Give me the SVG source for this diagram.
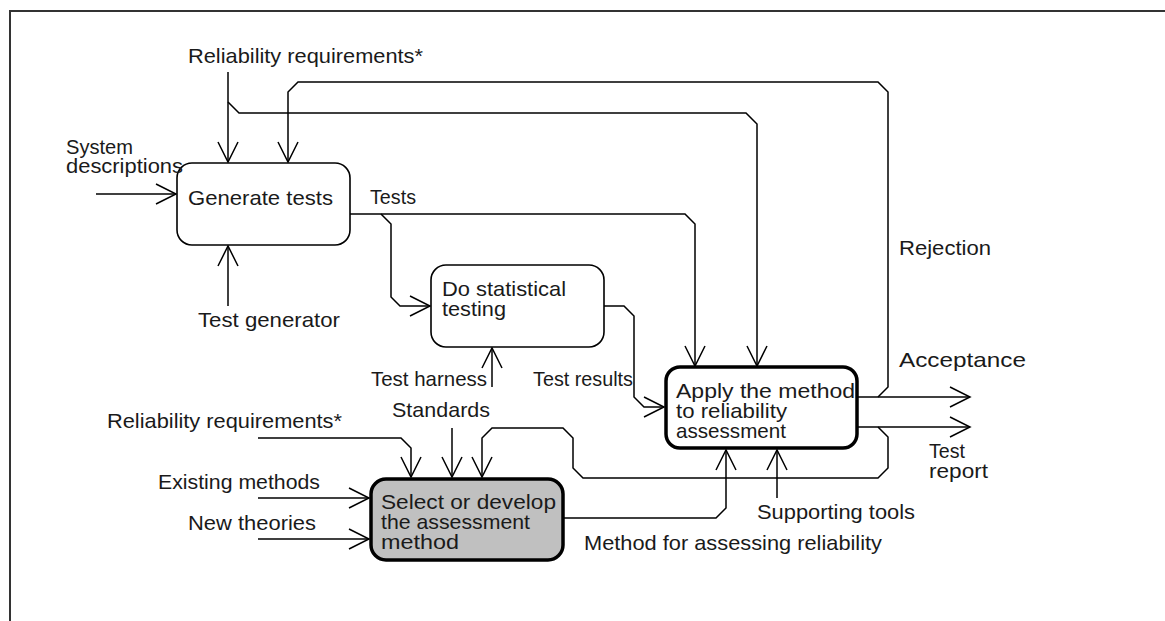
<svg xmlns="http://www.w3.org/2000/svg" width="1165" height="621" viewBox="0 0 1165 621">
  <style>
    .lbl { font-family: "Liberation Sans", Arial, sans-serif; font-size: 21px; fill: #1a1a1a; }
    .wire { fill: none; stroke: #000; stroke-width: 1.5; stroke-linejoin: miter; }
    .box { fill: #fff; stroke: #000; stroke-width: 1.6; }
    .box-main { fill: #fff; stroke: #000; stroke-width: 3.5; }
    .box-shaded { fill: #c0c0c0; stroke: #000; stroke-width: 3.5; }
  </style>
  <defs>
    <marker id="chev" markerUnits="userSpaceOnUse" markerWidth="24" markerHeight="24" viewBox="-22 -12 24 24" refX="0" refY="0" orient="auto" overflow="visible">
      <path d="M-20,-10 L0,0 L-20,10" fill="none" stroke="#000" stroke-width="1.5"/>
    </marker>
  </defs>

  <rect width="1165" height="621" fill="#fff"/>
  <!-- outer frame, running past the right and bottom edges -->
  <path d="M10,640 V11 H1180" fill="none" stroke="#333" stroke-width="2"/>

  <g id="connectors">
    <!-- reliability requirements into generate tests, with branch to apply -->
    <path class="wire" d="M228,72 V162" marker-end="url(#chev)"/>
    <path class="wire" d="M228,102 L239,113 H746 L757,124 V366" marker-end="url(#chev)"/>
    <!-- system descriptions -->
    <path class="wire" d="M96,194 H176" marker-end="url(#chev)"/>
    <!-- test generator -->
    <path class="wire" d="M228,306 V246" marker-end="url(#chev)"/>
    <!-- tests to apply and to statistical testing -->
    <path class="wire" d="M350,214 H685 L695,224 V366" marker-end="url(#chev)"/>
    <path class="wire" d="M381,214 L391,224 V297 L400,306 H430" marker-end="url(#chev)"/>
    <!-- test harness -->
    <path class="wire" d="M492,387 V348" marker-end="url(#chev)"/>
    <!-- test results -->
    <path class="wire" d="M604,306 H624 L634,316 V397 L644,407 H664" marker-end="url(#chev)"/>
    <!-- acceptance and rejection -->
    <path class="wire" d="M857,397 H970" marker-end="url(#chev)"/>
    <path class="wire" d="M878,397 L888,387 V92 L878,82 H298 L288,92 V162" marker-end="url(#chev)"/>
    <!-- test report, fed back to method selection -->
    <path class="wire" d="M857,427 H970" marker-end="url(#chev)"/>
    <path class="wire" d="M878,427 L888,437 V468 L878,478 H583 L573,468 V438 L563,428 H492 L482,438 V477" marker-end="url(#chev)"/>
    <!-- standards -->
    <path class="wire" d="M452,428 V477" marker-end="url(#chev)"/>
    <!-- reliability requirements into selection -->
    <path class="wire" d="M258,438 H401 L411,448 V477" marker-end="url(#chev)"/>
    <!-- existing methods / new theories -->
    <path class="wire" d="M258,498 H369" marker-end="url(#chev)"/>
    <path class="wire" d="M258,539 H369" marker-end="url(#chev)"/>
    <!-- method for assessing reliability -->
    <path class="wire" d="M563,518 H716 L726,508 V450" marker-end="url(#chev)"/>
    <!-- supporting tools -->
    <path class="wire" d="M777,498 V450" marker-end="url(#chev)"/>
  </g>

  <g id="generate-tests">
    <rect class="box" x="177" y="163" width="173" height="82" rx="15"/>
    <text class="lbl" x="188" y="205" textLength="145" lengthAdjust="spacingAndGlyphs">Generate tests</text>
  </g>

  <g id="statistical-testing">
    <rect class="box" x="431" y="265" width="173" height="82" rx="15"/>
    <text class="lbl" x="442" y="296" textLength="124" lengthAdjust="spacingAndGlyphs">Do statistical</text>
    <text class="lbl" x="442" y="316" textLength="64" lengthAdjust="spacingAndGlyphs">testing</text>
  </g>

  <g id="apply-method">
    <rect class="box-main" x="666" y="367" width="191" height="81" rx="14"/>
    <text class="lbl" x="676" y="398" textLength="179" lengthAdjust="spacingAndGlyphs">Apply the method</text>
    <text class="lbl" x="676" y="418" textLength="111" lengthAdjust="spacingAndGlyphs">to reliability</text>
    <text class="lbl" x="676" y="438" textLength="110" lengthAdjust="spacingAndGlyphs">assessment</text>
  </g>

  <g id="select-method">
    <rect class="box-shaded" x="371" y="479" width="192" height="81" rx="15"/>
    <text class="lbl" x="381" y="509" textLength="175" lengthAdjust="spacingAndGlyphs">Select or develop</text>
    <text class="lbl" x="381" y="529" textLength="149" lengthAdjust="spacingAndGlyphs">the assessment</text>
    <text class="lbl" x="381" y="549" textLength="78" lengthAdjust="spacingAndGlyphs">method</text>
  </g>

  <g id="labels">
    <text class="lbl" x="188" y="63" textLength="235" lengthAdjust="spacingAndGlyphs">Reliability requirements*</text>
    <text class="lbl" x="66" y="154" textLength="67" lengthAdjust="spacingAndGlyphs">System</text>
    <text class="lbl" x="66" y="173" textLength="117" lengthAdjust="spacingAndGlyphs">descriptions</text>
    <text class="lbl" x="370" y="204" textLength="46" lengthAdjust="spacingAndGlyphs">Tests</text>
    <text class="lbl" x="198" y="327" textLength="142" lengthAdjust="spacingAndGlyphs">Test generator</text>
    <text class="lbl" x="371" y="386" textLength="116" lengthAdjust="spacingAndGlyphs">Test harness</text>
    <text class="lbl" x="533" y="386" textLength="100" lengthAdjust="spacingAndGlyphs">Test results</text>
    <text class="lbl" x="392" y="417" textLength="98" lengthAdjust="spacingAndGlyphs">Standards</text>
    <text class="lbl" x="107" y="428" textLength="235" lengthAdjust="spacingAndGlyphs">Reliability requirements*</text>
    <text class="lbl" x="158" y="489" textLength="162" lengthAdjust="spacingAndGlyphs">Existing methods</text>
    <text class="lbl" x="188" y="530" textLength="128" lengthAdjust="spacingAndGlyphs">New theories</text>
    <text class="lbl" x="584" y="550" textLength="298" lengthAdjust="spacingAndGlyphs">Method for assessing reliability</text>
    <text class="lbl" x="757" y="519" textLength="158" lengthAdjust="spacingAndGlyphs">Supporting tools</text>
    <text class="lbl" x="899" y="255" textLength="92" lengthAdjust="spacingAndGlyphs">Rejection</text>
    <text class="lbl" x="899" y="367" textLength="127" lengthAdjust="spacingAndGlyphs">Acceptance</text>
    <text class="lbl" x="929" y="458" textLength="36" lengthAdjust="spacingAndGlyphs">Test</text>
    <text class="lbl" x="929" y="478" textLength="59" lengthAdjust="spacingAndGlyphs">report</text>
  </g>
</svg>
